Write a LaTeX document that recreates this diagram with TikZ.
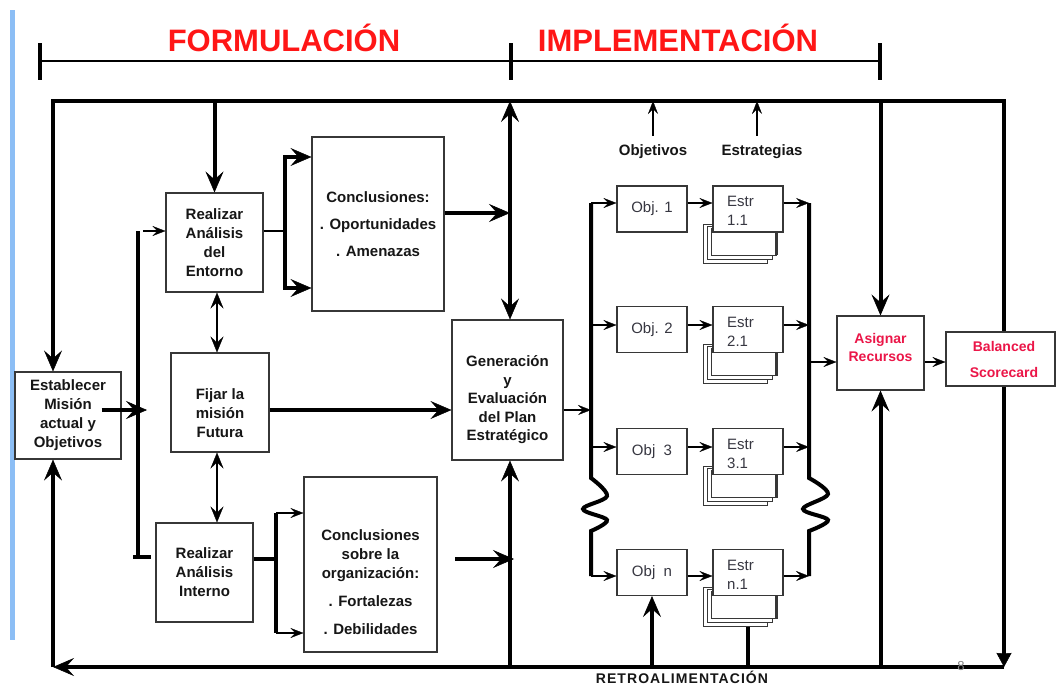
\documentclass[tikz,border=0pt]{standalone}
\usepackage{fontspec}
\setmainfont{Liberation Sans}
\usetikzlibrary{arrows.meta,calc}
\pgfdeclarelayer{bg}
\pgfsetlayers{bg,main}
\definecolor{redA}{RGB}{255,22,22}
\definecolor{redB}{RGB}{235,22,72}
\definecolor{blueBar}{RGB}{140,190,245}
\definecolor{boxc}{RGB}{55,55,55}
\definecolor{txtc}{RGB}{22,22,22}
\definecolor{objc}{RGB}{55,55,65}
\tikzset{
  BT/.tip={Stealth[length=21pt,width=18pt,inset=8pt,line width=0.5pt]},
  BD/.tip={Stealth[length=14pt,width=15pt,inset=0.5pt,line width=0.5pt]},
  MT/.tip={Stealth[length=16pt,width=13pt,inset=6pt,line width=0.3pt]},
  ST/.tip={Stealth[length=13pt,width=10pt,inset=5pt,line width=0.3pt]},
}
\begin{document}
\begin{tikzpicture}[x=1pt,y=-1pt,
  box/.style={draw=boxc,line width=1.1pt,fill=white,inner sep=0pt},
  cpy/.style={draw=boxc,line width=0.9pt,fill=white,inner sep=0pt},
  btxt/.style={font=\fontsize{15}{19}\selectfont\bfseries,align=center,text=txtc,inner sep=0pt},
  rtxt/.style={font=\fontsize{14}{18}\selectfont\bfseries,align=center,text=redB,inner sep=0pt},
  obox/.style={box,minimum width=70pt,minimum height=46pt,font=\fontsize{15}{18}\selectfont,text=objc},
  ebox/.style={box,minimum width=70pt,minimum height=46pt},
  etxt/.style={font=\fontsize{15}{19}\selectfont,align=left,text=objc,inner sep=0pt,anchor=west},
  thk/.style={line width=4pt},
  thn/.style={line width=1.4pt},
  med/.style={line width=2pt},
]
\useasboundingbox (0,0) rectangle (1057,688);
\begin{pgfonlayer}{bg}
\fill[white] (0,0) rectangle (1057,688);
\end{pgfonlayer}
\fill[blueBar] (10,10) rectangle (15,640);

% phase line
\coordinate (P1) at (40,61);
\coordinate (P2) at (511,61);
\coordinate (P3) at (880,61);
\draw[line width=1.3pt] (P1) -- (P3);
\foreach \p in {P1,P2,P3} \draw[line width=4pt] ([yshift=18pt]\p) -- ([yshift=-19pt]\p);
\node[font=\fontsize{31}{31}\selectfont\bfseries,text=redA,anchor=base,inner sep=0pt] (tF) at (284,51) {FORMULACIÓN};
\node[font=\fontsize{31}{31}\selectfont\bfseries,text=redA,anchor=base,inner sep=0pt] (tI) at (678,51) {IMPLEMENTACIÓN};

% loop coordinates
\coordinate (TL) at (53,101);
\coordinate (TR) at (1004,101);
\coordinate (BR) at (1004,667);
\coordinate (BL) at (53,667);

% formulation boxes
\node[box,btxt,minimum width=106pt,minimum height=87pt] (est) at (68,415.5) {Establecer\\Misión\\actual y\\Objetivos};
\node[box,btxt,minimum width=97pt,minimum height=99pt] (ent) at (214.5,242.5) {Realizar\\Análisis\\del\\Entorno};
\node[box,btxt,font=\fontsize{15}{27}\selectfont\bfseries,minimum width=132pt,minimum height=174pt] (con1) at (378,224) {Conclusiones:\\. Oportunidades\\. Amenazas};
\node[box,minimum width=98pt,minimum height=99pt] (fij) at (220,402.5) {};
\node[btxt] (fijt) at (220,413.5) {Fijar la\\misión\\Futura};
\node[box,btxt,minimum width=97pt,minimum height=99pt] (int) at (204.5,572.5) {Realizar\\Análisis\\Interno};
\node[box,minimum width=133pt,minimum height=175pt] (con2) at (370.5,564.5) {};
\node[btxt] (con2t) at (370.5,582) {Conclusiones\\sobre la\\organización:\\[9pt]. Fortalezas\\[9pt]. Debilidades};
\node[box,minimum width=111pt,minimum height=140pt] (gen) at (507.5,390) {};
\node[btxt,font=\fontsize{15}{18.5}\selectfont\bfseries] (gent) at (507.5,400) {Generación\\y\\Evaluación\\del Plan\\Estratégico};

% objectives
\node[obox] (o1) at (652,209) {Obj. 1};
\node[obox] (o2) at (652,329.5) {Obj. 2};
\node[obox] (o3) at (652,451.5) {Obj~~3};
\node[obox] (on) at (652,572.5) {Obj~~n};

% strategy stacks
\foreach \nm/\c/\lab in {e1/209/1.1, e2/329.5/2.1, e3/451.5/3.1, en/572.5/n.1}{
  \node[cpy,minimum width=64pt,minimum height=39pt] (\nm-c3) at (735,\c+34.5) {};
  \node[cpy,minimum width=65pt,minimum height=33pt] (\nm-c2) at (739.5,\c+33.5) {};
  \node[cpy,minimum width=65pt,minimum height=27pt] (\nm-c1) at (743.5,\c+32.5) {};
  \draw[line width=2.4pt,boxc] (\nm-c1.north east) -- (\nm-c1.south east);
  \node[ebox] (\nm) at (748,\c) {};
  \node[etxt] (\nm-t) at (727,\c+2) {Estr\\\lab};
}

% allocation and scorecard
\node[box,minimum width=87pt,minimum height=74pt] (asig) at (880.5,353) {};
\node[rtxt] (asigt) at (880.5,347) {Asignar\\Recursos};

\begin{pgfonlayer}{bg}
\draw[thk,{BT}-{BD}] (TL |- est.north) -- (TL) -- (TR) -- (BR);
\end{pgfonlayer}
\node[box,minimum width=109pt,minimum height=54pt] (bsc) at (1000.5,359) {};
\node[rtxt,font=\fontsize{14}{26}\selectfont\bfseries] (bsct) at (1004,359) {Balanced\\Scorecard};

% feedback loop bottom
\draw[thk,-{BT}] (BR) -- (BL);
\draw[thk,-{BT}] (BL) -- (BL |- est.south);

% top line to boxes
\draw[thk,-{BT}] (ent.north |- TL) -- (ent.north);
\coordinate (V) at (510,101);
\draw[thk,{BT}-{BT}] (V) -- (V |- gen.north);
\draw[thk,-{BT}] (V |- BL) -- (V |- gen.south);
\draw[thk,-{BT}] (asig.north |- TL) -- (asig.north);
\draw[thk,-{BT}] (asig.south |- BL) -- (asig.south);
\draw[thk,-{BT}] (on.south |- BL) -- (on.south);
\draw[thk] (en.south |- en-c3.south) -- (en.south |- BL);

% formulation connectors
\coordinate (FTa) at (138,231);
\coordinate (FTb) at (138,557);
\coordinate (FTx) at (147,410);
\draw[thk,-{BT}] ([xshift=-20pt]est.east |- FTx) -- (FTx);
\draw[thk] (FTa) -- (FTb);
\draw[thk] ([xshift=-5pt]FTb) -- ([xshift=-4pt]int.west |- FTb);
\draw[thn,-{ST}] ([xshift=5pt]FTa) -- (ent.west |- FTa);

\coordinate (EB) at (285,231);
\coordinate (EBt) at (285,157);
\coordinate (EBb) at (285,288);
\draw[thn] (ent.east |- EB) -- (EB);
\draw[thk,{BT}-{BT}] (con1.west |- EBt) -- (EBt) -- (EBb) -- (con1.west |- EBb);

\coordinate (IB) at (276,559);
\coordinate (IBt) at (276,513);
\coordinate (IBb) at (276,633);
\draw[thk] (int.east |- IB) -- (IB);
\draw[thk] (IBt) -- (IBb);
\draw[thn,-{ST}] (IBt) -- (con2.west |- IBt);
\draw[thn,-{ST}] (IBb) -- (con2.west |- IBb);

\draw[med,{MT}-{MT}] ([xshift=2.5pt]ent.south) -- ([xshift=2.5pt]ent.south |- fij.north);
\draw[med,{MT}-{MT}] ([xshift=-3pt]fij.south) -- ([xshift=-3pt]fij.south |- int.north);

\draw[thk,-{BT}] ([yshift=11pt]con1.east) -- ([yshift=11pt]con1.east -| V);
\coordinate (C2a) at (455,559);
\coordinate (C2b) at (514,559);
\draw[thk,-{BT}] (C2a) -- (C2b);
\coordinate (GY) at (0,410);
\draw[thk,-{BT}] (fij.east |- GY) -- (gen.west |- GY);

% implementation trunks
\coordinate (LTa) at (591,203);
\coordinate (LTb) at (591,576);
\coordinate (RTa) at (809,203);
\coordinate (RTb) at (809,576);
\draw[thn,-{ST}] (gen.east |- GY) -- (LTa |- GY);
\draw[thk] (LTa) -- plot[smooth,tension=0.6] coordinates {(591,478) (607,496) (583,509) (607,520) (591,531)} -- (LTb);
\draw[thk] (RTa) -- plot[smooth,tension=0.6] coordinates {(809,478) (828,494) (803,509) (828,520) (809,531)} -- (RTb);

\foreach \o/\e/\r in {o1/e1/203, o2/e2/325, o3/e3/447, on/en/576}{
  \draw[thn,-{ST}] (591,\r) -- (\o.west |- 0,\r);
  \draw[thn,-{ST}] (\o.east |- 0,\r) -- (\e.west |- 0,\r);
  \draw[thn,-{ST}] (\e.east |- 0,\r) -- (809,\r);
}
\coordinate (AY) at (0,362);
\draw[thn,-{ST}] (RTa |- AY) -- (asig.west |- AY);
\draw[thn,-{ST}] (asig.east |- AY) -- (bsc.west |- AY);

% labels objetivos / estrategias
\node[font=\fontsize{15}{18}\selectfont\bfseries,text=txtc,inner sep=0pt] (lobj) at (653,152) {Objetivos};
\node[font=\fontsize{15}{18}\selectfont\bfseries,text=txtc,inner sep=0pt] (lest) at (762,152) {Estrategias};
\draw[thn,-{ST}] ([yshift=9pt]lobj.north) -- (lobj.north |- TL);
\draw[thn,-{ST}] ([xshift=-5pt,yshift=9pt]lest.north) -- ([xshift=-5pt]lest.north |- TL);

\node[font=\fontsize{14}{14}\selectfont\bfseries\addfontfeature{LetterSpace=7.5},text=txtc,anchor=base,inner sep=0pt] (retro) at (682,683) {RETROALIMENTACIÓN};
\node[font=\fontsize{13}{13}\selectfont,text=gray,anchor=base,inner sep=0pt] (pg) at (961,670) {8};
\end{tikzpicture}
\end{document}
